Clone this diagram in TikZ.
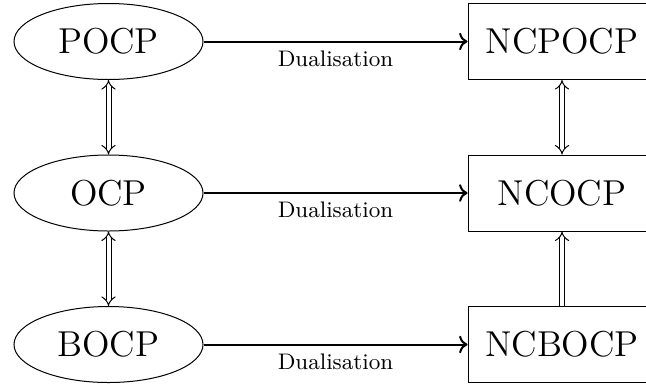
\documentclass[tikz,border=0pt]{standalone}
\usetikzlibrary{shapes.geometric,arrows.meta}

\tikzset{
    primal node/.style={ellipse,draw,minimum width=75.6pt,minimum height=30.4pt,inner sep=0pt,font=\Large},
    dual node/.style={rectangle,draw,minimum width=75.2pt,minimum height=30.4pt,inner sep=0pt,font=\Large},
    bold/.style={thick,->},
    equiv/.style={double,double distance=1.6pt,Implies-Implies},
    implies/.style={double,double distance=1.6pt,-Implies}
    }

\begin{document}
\begin{tikzpicture}[x=1pt,y=1pt]
                \useasboundingbox (0,0) rectangle (258.4,-153.2);
                % primal problems
                \node(POCP)[primal node] at (43.4,-16.6) {POCP};
                \node(OCP)[primal node] at (43.4,-77.2) {OCP};
                \node(BOCP)[primal node] at (43.4,-137.8) {BOCP};
                % dual problems
                \node(NCPOCP)[dual node] at (224.8,-16.6) {NCPOCP};
                \node(NCOCP)[dual node] at (224.8,-77.2) {NCOCP};
                \node(NCBOCP)[dual node] at (224.8,-137.8) {NCBOCP};

                \draw[bold] (POCP) -- node[below]{\small Dualisation} (NCPOCP);
                \draw[bold] (OCP) -- node[below]{\small Dualisation} (NCOCP);
                \draw[bold] (BOCP) -- node[below]{\small Dualisation} (NCBOCP);

                \draw[equiv] (POCP) -- (OCP);
                \draw[equiv] (OCP) -- (BOCP);
                \draw[equiv] (NCPOCP) -- (NCOCP);
                \draw[implies] (NCBOCP) -- (NCOCP);
            \end{tikzpicture}
\end{document}
